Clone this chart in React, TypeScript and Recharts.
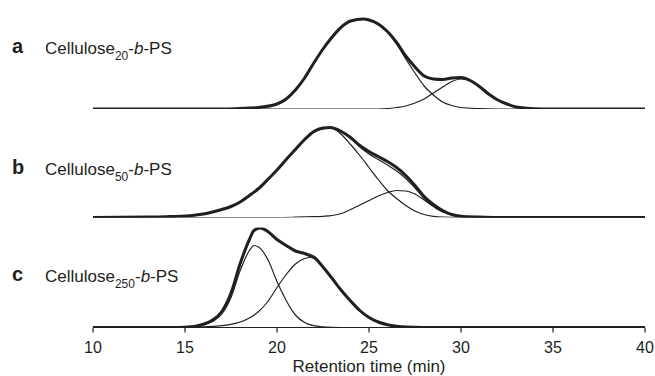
import { Line, LineChart, XAxis, YAxis } from 'recharts'

const INK = '#231f20'
const FONT = '"Liberation Sans", Arial, Helvetica, sans-serif'

// retention time (min) vs. detector response; [t, h]
const xTicks = [10, 15, 20, 25, 30, 35, 40]

const aMeasured = [
  [10, 0], [17, 0], [18, 0.5], [19, 1.5], [20, 5], [20.5, 10], [21, 19], [21.5, 31], [22, 46], [22.5, 60],
  [23, 72], [23.5, 82], [24, 88], [24.7, 90], [25, 89], [25.5, 85], [26, 77.5], [26.5, 66.5], [27, 53],
  [27.5, 42], [28, 33], [28.5, 30], [29, 29.5], [29.5, 31], [30, 31.5], [30.5, 28.5], [31, 22.5],
  [31.5, 15], [32, 9], [32.5, 5], [33, 2], [34, 0.3], [35, 0], [40, 0],
]
const aMain = [
  [10, 0], [17, 0], [18, 0.5], [19, 1.5], [20, 5], [20.5, 10], [21, 19], [21.5, 31], [22, 46], [22.5, 60],
  [23, 72], [23.5, 82], [24, 88], [24.7, 90], [25, 89], [25.5, 85], [26, 77], [26.5, 65], [27, 50],
  [27.5, 36], [28, 23], [28.5, 14], [29, 7], [29.5, 3.5], [30, 1.5], [31, 0.4], [32, 0], [40, 0],
]
const aSide = [
  [10, 0], [25, 0], [26, 0.5], [26.5, 1.5], [27, 3], [27.5, 6], [28, 10], [28.5, 16], [29, 22], [29.5, 27.5],
  [30, 30], [30.5, 28], [31, 22], [31.5, 15], [32, 9], [32.5, 5], [33, 2], [34, 0.3], [35, 0], [40, 0],
]

const bMeasured = [
  [10, 0], [13, 0.5], [14, 0.8], [15, 1.5], [15.5, 2.3], [16, 3.5], [16.5, 5.5], [17, 8], [17.5, 11],
  [18, 15.5], [18.5, 22], [19, 29], [19.5, 38], [20, 47.5], [20.5, 58], [21, 68], [21.5, 78], [22, 86],
  [22.5, 89.5], [22.9, 90], [23.5, 86], [24, 80], [24.5, 72], [25, 66], [25.5, 61], [26, 56], [26.5, 50],
  [27, 42], [27.5, 32], [28, 21], [28.5, 13], [29, 7], [29.5, 3], [30, 1.3], [31, 0.4], [32, 0], [40, 0],
]
const bFit = [
  [10, 0], [13, 0.5], [14, 0.8], [15, 1.5], [15.5, 2.3], [16, 3.5], [16.5, 5.5], [17, 8], [17.5, 11],
  [18, 15.5], [18.5, 22], [19, 29], [19.5, 38], [20, 47.5], [20.5, 58], [21, 68], [21.5, 78], [22, 86],
  [22.5, 89.5], [22.9, 90], [23.5, 85.5], [24, 79], [24.5, 70.5], [25, 63.5], [25.5, 58], [26, 52.5],
  [26.5, 46.5], [27, 39], [27.5, 29.5], [28, 19], [28.5, 11.5], [29, 6], [29.5, 2.5], [30, 1], [31, 0.3],
  [32, 0], [40, 0],
]
const bMain = [
  [10, 0], [13, 0.5], [14, 0.8], [15, 1.5], [15.5, 2.3], [16, 3.5], [16.5, 5.5], [17, 8], [17.5, 11],
  [18, 15.5], [18.5, 22], [19, 29], [19.5, 38], [20, 47.5], [20.5, 58], [21, 67.5], [21.5, 77.5], [22, 85],
  [22.5, 88.5], [22.9, 89.5], [23.5, 83], [24, 73], [24.5, 62], [25, 50], [25.5, 38], [26, 27], [26.5, 19],
  [27, 12], [27.5, 6.5], [28, 3], [28.5, 1.2], [29, 0.5], [30, 0.1], [31, 0], [40, 0],
]
const bSide = [
  [10, 0], [20, 0], [21, 0.3], [22, 0.8], [22.5, 1.2], [23, 2], [23.5, 4], [24, 8], [24.5, 12.5], [25, 17],
  [25.5, 21.5], [26, 25], [26.5, 27], [27, 26.5], [27.5, 23.5], [28, 17.5], [28.5, 11], [29, 5.5],
  [29.5, 2.5], [30, 1], [31, 0.2], [32, 0], [40, 0],
]

const cMeasured = [
  [10, 0], [14.5, 0], [15, 0.3], [15.5, 1], [16, 3.3], [16.5, 7.5], [17, 16], [17.5, 34.5], [18, 64],
  [18.5, 88], [18.75, 97], [19.1, 99.5], [19.5, 96], [20, 88], [20.5, 82], [21, 76.5], [21.5, 74],
  [21.8, 72], [22, 70.5], [22.5, 60.5], [23, 49], [23.5, 37], [24, 26.5], [24.5, 17], [25, 10],
  [25.5, 5.5], [26, 2.8], [26.5, 1.3], [27, 0.5], [28, 0.1], [29, 0], [40, 0],
]
const cMain = [
  [10, 0], [14.5, 0], [15, 0.3], [15.5, 1], [16, 2.5], [16.5, 6], [17, 13.5], [17.5, 30], [18, 57],
  [18.5, 77], [18.75, 82], [19, 80.5], [19.5, 68], [20, 46], [20.5, 27], [21, 12.5], [21.5, 5], [22, 1.8],
  [22.5, 0.6], [23, 0.2], [24, 0], [40, 0],
]
const cSide = [
  [10, 0], [15, 0], [16, 0.6], [16.5, 1.1], [17, 1.8], [17.5, 3.2], [18, 5.5], [18.5, 9.5], [19, 16],
  [19.5, 26], [20, 40], [20.5, 53], [21, 63.5], [21.5, 69], [21.8, 70], [22, 69], [22.5, 60], [23, 49],
  [23.5, 37], [24, 26.5], [24.5, 17], [25, 10], [25.5, 5.5], [26, 2.8], [26.5, 1.3], [27, 0.5], [28, 0.1],
  [29, 0], [40, 0],
]

const rows = (pts: number[][]) => pts.map(([t, v]) => ({ t, v }))

type PanelProps = {
  top: number
  height: number
  marginTop: number
  marginBottom: number
  thin: number[][][]
  thick: number[][]
  axis?: boolean
}

function Panel({ top, height, marginTop, marginBottom, thin, thick, axis }: PanelProps) {
  return (
    <div style={{ position: 'absolute', left: 0, top }}>
      <LineChart width={655} height={height} margin={{ top: marginTop, right: 10, left: 93, bottom: marginBottom }}>
        {axis ? (
          <XAxis
            type="number"
            dataKey="t"
            domain={[10, 40]}
            ticks={xTicks}
            allowDataOverflow
            height={48.5}
            tickSize={5}
            tickMargin={9}
            stroke={INK}
            axisLine={{ stroke: INK, strokeWidth: 1.2 }}
            tickLine={{ stroke: INK, strokeWidth: 1.2 }}
            tick={{ fontSize: 16, fill: INK, fontFamily: FONT }}
          />
        ) : (
          <XAxis type="number" dataKey="t" domain={[10, 40]} allowDataOverflow hide />
        )}
        <YAxis type="number" domain={[0, 100]} allowDataOverflow hide />
        {thin.map((s, i) => (
          <Line
            key={i}
            data={rows(s)}
            dataKey="v"
            type="monotone"
            stroke={INK}
            strokeWidth={1.2}
            dot={false}
            activeDot={false}
            isAnimationActive={false}
          />
        ))}
        <Line
          data={rows(thick)}
          dataKey="v"
          type="monotone"
          stroke={INK}
          strokeWidth={3}
          dot={false}
          activeDot={false}
          isAnimationActive={false}
        />
      </LineChart>
    </div>
  )
}

function SampleLabel({ letter, n, y }: { letter: string; n: string; y: number }) {
  return (
    <>
      <text x={12} y={y - 1} fontSize={20} fontWeight="bold" fill={INK}>
        {letter}
      </text>
      <text x={45} y={y} fontSize={17} fill={INK}>
        Cellulose
        <tspan fontSize={12} dy={6}>
          {n}
        </tspan>
        <tspan dy={-6}>-</tspan>
        <tspan fontStyle="italic">b</tspan>
        <tspan>-PS</tspan>
      </text>
    </>
  )
}

export default function App() {
  return (
    <div style={{ position: 'absolute', left: 0, top: 0, width: 655, height: 376, background: '#fff', fontFamily: FONT }}>
      <Panel top={0} height={112} marginTop={9} marginBottom={3} thin={[aMain, aSide]} thick={aMeasured} />
      <Panel top={110} height={110} marginTop={7.5} marginBottom={2.5} thin={[bMain, bSide, bFit]} thick={bMeasured} />
      <Panel top={220} height={156} marginTop={7.5} marginBottom={0} thin={[cMain, cSide]} thick={cMeasured} axis />
      <svg
        width={655}
        height={376}
        style={{ position: 'absolute', left: 0, top: 0, pointerEvents: 'none', fontFamily: FONT }}
      >
        <SampleLabel letter="a" n="20" y={53.5} />
        <SampleLabel letter="b" n="50" y={175} />
        <SampleLabel letter="c" n="250" y={282} />
        <text x={369} y={372} fontSize={17} textAnchor="middle" fill={INK}>
          Retention time (min)
        </text>
      </svg>
    </div>
  )
}
